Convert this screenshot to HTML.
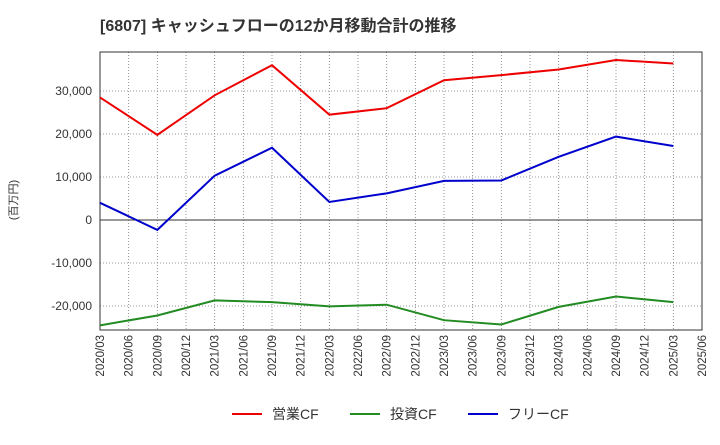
<!DOCTYPE html>
<html><head><meta charset="utf-8"><style>
body{margin:0;background:#fff;}
svg text{font-family:"Liberation Sans","Noto Sans CJK JP",sans-serif;}
</style></head><body>
<svg id="chart" width="720" height="440" xmlns="http://www.w3.org/2000/svg">
<text x="100" y="31" font-size="16" font-weight="bold" fill="#333">[6807]  キャッシュフローの12か月移動合計の推移</text>
<text transform="translate(17,200) rotate(-90)" font-size="11" fill="#333" text-anchor="middle">(百万円)</text>
<g id="grid"></g><g id="axes"></g><g id="series"></g>
<g>
<line x1="232" y1="414" x2="262" y2="414" stroke="#e00" stroke-width="2"/><text x="272" y="419" font-size="14" fill="#333">営業CF</text>
<line x1="350" y1="414" x2="380" y2="414" stroke="#228B22" stroke-width="2"/><text x="390" y="419" font-size="14" fill="#333">投資CF</text>
<line x1="468" y1="414" x2="498" y2="414" stroke="#00c" stroke-width="2"/><text x="508" y="419" font-size="14" fill="#333">フリーCF</text>
</g>
</svg>
<script>
const xLabels=["2020/03","2020/06","2020/09","2020/12","2021/03","2021/06","2021/09","2021/12","2022/03","2022/06","2022/09","2022/12","2023/03","2023/06","2023/09","2023/12","2024/03","2024/06","2024/09","2024/12","2025/03","2025/06"];
const yTicks=[-20000,-10000,0,10000,20000,30000];
const pointIdx=[0,2,4,6,8,10,12,14,16,18,20];
const operatingCF=[28500,19800,29000,36000,24500,26000,32500,33700,35000,37200,36400];
const investingCF=[-24500,-22200,-18700,-19100,-20100,-19700,-23300,-24300,-20200,-17800,-19100];
const freeCF=[4000,-2300,10300,16800,4200,6200,9100,9200,14700,19400,17200];
const L=100,R=702,T=52,B=330;
const NS="http://www.w3.org/2000/svg";
const xs=i=>L+i*(R-L)/(xLabels.length-1);
const ys=v=>220-v*43/10000;
function mk(t,a,p){const e=document.createElementNS(NS,t);for(const k in a)e.setAttribute(k,a[k]);p.appendChild(e);return e;}
const grid=document.getElementById('grid'),axes=document.getElementById('axes'),ser=document.getElementById('series');
mk('rect',{x:L,y:T,width:R-L,height:B-T,fill:'none',stroke:'#333','stroke-width':1},axes);
xLabels.forEach((lab,i)=>{
 const x=xs(i);
 const g=mk('line',{x1:x,y1:T,x2:x,y2:B,stroke:'#777','stroke-dasharray':'1,2','stroke-width':0.8},grid);
 
 
 const t=mk('text',{transform:`translate(${x+4},${B+5}) rotate(-90)`,'font-size':11.5,fill:'#333','text-anchor':'end'},axes);
 t.textContent=lab;
 
 
});
yTicks.forEach(v=>{
 const y=ys(v);
 const g=mk('line',{x1:L,y1:y,x2:R,y2:y,stroke:v===0?'#333':'#777','stroke-dasharray':v===0?'none':'1,2','stroke-width':v===0?1:0.8},grid);
 
 
 const t=mk('text',{x:L-8,y:y+4,'font-size':12,fill:'#333','text-anchor':'end'},axes);
 t.textContent=v.toLocaleString('en-US');
 
 
});
[[operatingCF,'#e00','operating-cf-line'],[investingCF,'#228B22','investing-cf-line'],[freeCF,'#00c','free-cf-line']].forEach(([d,c,n])=>{
 const p=mk('polyline',{points:d.map((v,i)=>xs(pointIdx[i])+','+ys(v)).join(' '),fill:'none',stroke:c,'stroke-width':2},ser);
 
 
});
</script>
</body></html>
